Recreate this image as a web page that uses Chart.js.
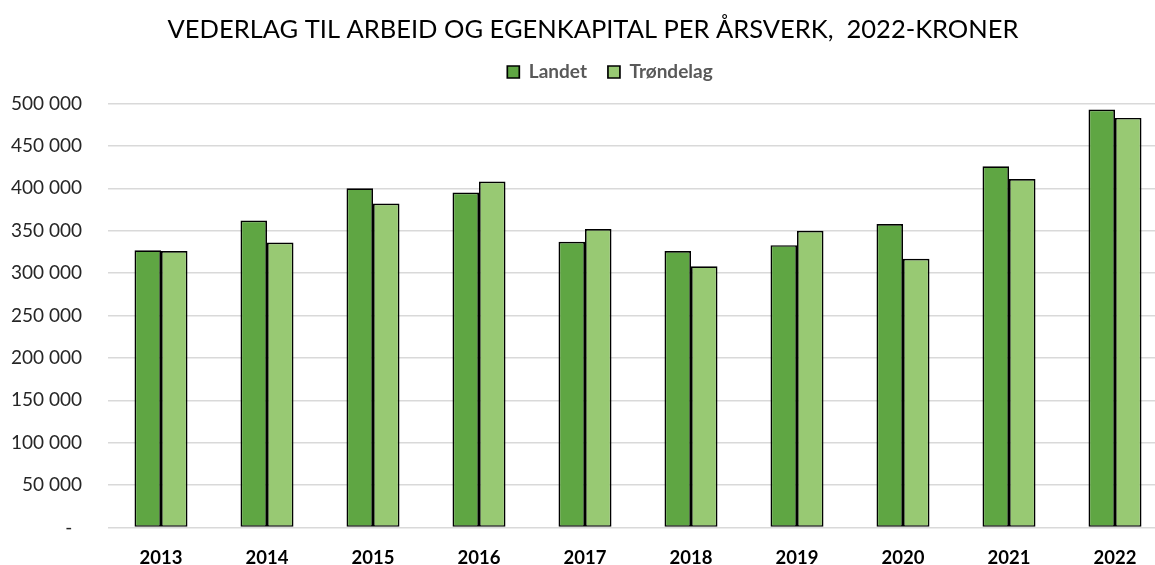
<!DOCTYPE html>
<html>
<head>
<meta charset="utf-8">
<script src="https://cdn.jsdelivr.net/npm/chart.js@4"></script>
<style>
  html, body { margin: 0; padding: 0; background: #fff; overflow: hidden; }
  #wrap { width: 1155px; height: 565px; overflow: hidden; }
</style>
</head>
<body>
<div id="wrap"><canvas id="myChart" width="1168" height="565"></canvas></div>
<script>
const years = ["2013", "2014", "2015", "2016", "2017", "2018", "2019", "2020", "2021", "2022"];
const landet = [327000, 362000, 400000, 395000, 337000, 326000, 333000, 358000, 426000, 493000];
const trondelag = [326000, 336000, 382000, 408000, 352000, 308000, 350000, 317000, 411000, 483000];
const yTicks = [0, 50000, 100000, 150000, 200000, 250000, 300000, 350000, 400000, 450000, 500000];

const font = "Lato, 'Open Sans', sans-serif";

function fmt(v) {
  if (v === 0) return "-  ";
  return String(v).replace(/\B(?=(\d{3})+(?!\d))/g, " ");
}

// nudge title and legend, the plot is wider than the page
const nudge = {
  id: "nudge",
  afterLayout(chart) {
    const t = chart.titleBlock;
    const l = chart.legend;
    if (t) { t.left += 9; t.right += 9; }
    if (l) { l.left += 26; l.right += 26; l.top -= 12; l.bottom -= 12; }
  },
};

const ctx = "myChart";
const myChart = new Chart(ctx, {
  type: "bar",
  data: {
    labels: years,
    datasets: [
      {
        label: "Landet",
        data: landet,
        backgroundColor: "#5fa643",
        borderColor: "#000000",
        borderWidth: 1.7,
        borderSkipped: false,
      },
      {
        label: "Trøndelag",
        data: trondelag,
        backgroundColor: "#98c973",
        borderColor: "#000000",
        borderWidth: 1.7,
        borderSkipped: false,
      },
    ],
  },
  plugins: [nudge],
  options: {
    responsive: false,
    animation: false,
    layout: { padding: 0 },
    datasets: {
      bar: { categoryPercentage: 0.5, barPercentage: 1.0 },
    },
    plugins: {
      title: {
        display: true,
        text: "VEDERLAG TIL ARBEID OG EGENKAPITAL PER ÅRSVERK,  2022-KRONER",
        color: "#000000",
        font: { family: font, size: 25.5, weight: "normal", lineHeight: 1 },
        padding: { top: 17, bottom: 0 },
      },
      legend: {
        position: "top",
        // empty title only adds some room below the title
        title: { display: true, text: "", font: { size: 1, lineHeight: 1 }, padding: 5 },
        labels: {
          boxWidth: 12,
          boxHeight: 12,
          color: "#595959",
          font: { family: font, size: 19, weight: "bold" },
          padding: 21,
        },
      },
      tooltip: { enabled: false },
    },
    scales: {
      x: {
        afterFit: (scale) => { scale.height = 36.5; },
        grid: { display: false, drawTicks: false },
        border: { display: false },
        ticks: {
          color: "#000000",
          font: { family: font, size: 18.5, weight: "bold" },
          padding: 19,
        },
      },
      y: {
        min: 0,
        max: 500000,
        afterFit: (scale) => { scale.width = 108; },
        afterBuildTicks: (scale) => { scale.ticks = yTicks.map((v) => ({ value: v })); },
        grid: { color: "#d9d9d9", lineWidth: 1.5, drawTicks: false },
        border: { display: false },
        ticks: {
          color: "#262626",
          font: { family: font, size: 19 },
          padding: 26,
          callback: (v) => fmt(v),
        },
      },
    },
  },
});
</script>
</body>
</html>
